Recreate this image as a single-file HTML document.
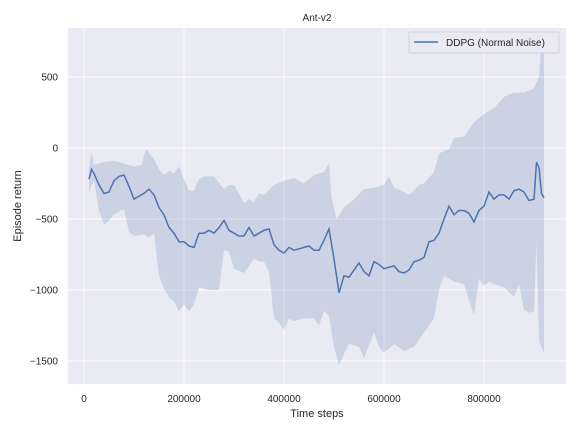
<!DOCTYPE html>
<html><head><meta charset="utf-8"><style>
body{margin:0;background:#fff;}
svg{display:block;font-family:"Liberation Sans",sans-serif;}
</style></head><body>
<svg id="chart" width="576" height="432" viewBox="0 0 576 432" xmlns="http://www.w3.org/2000/svg">
<defs><clipPath id="clip"><rect x="68" y="28" width="498" height="356"/></clipPath></defs>
<rect x="68" y="28" width="498" height="356" fill="#eaeaf2"/>
<g id="grid"></g>
<g id="series" clip-path="url(#clip)"></g>
<g id="ticks" font-size="10" fill="#262626"></g>
<text x="317" y="21" text-anchor="middle" font-size="10" fill="#262626">Ant-v2</text>
<text x="317" y="417" text-anchor="middle" font-size="11" fill="#262626">Time steps</text>
<text transform="translate(21,206) rotate(-90)" text-anchor="middle" font-size="11" fill="#262626">Episode return</text>
<g>
<rect x="409" y="32" width="150" height="21" rx="2" fill="#eaeaf2" stroke="#cccccc" stroke-width="0.8"/>
<line x1="414" y1="42" x2="438" y2="42" stroke="#4c72b0" stroke-width="1.5"/>
<text x="446" y="46" font-size="10" fill="#262626">DDPG (Normal Noise)</text>
</g>
</svg>
<script>
const meanX=[10,15,20,30,40,50,60,70,80,90,100,110,120,130,140,150,160,170,180,190,200,210,220,230,240,250,260,270,280,290,300,310,320,330,340,350,360,370,380,390,400,410,420,430,440,450,460,470,480,490,500,510,520,530,540,550,560,570,580,590,600,610,620,630,640,650,660,670,680,690,700,710,720,730,740,750,760,770,780,790,800,810,820,830,840,850,860,870,880,890,900,905,910,915,920];
const meanY=[-220,-150,-180,-260,-320,-310,-230,-200,-190,-270,-360,-340,-320,-290,-330,-420,-470,-560,-600,-660,-660,-690,-700,-600,-600,-580,-600,-560,-510,-580,-600,-620,-620,-560,-620,-600,-580,-570,-680,-720,-740,-700,-720,-710,-700,-690,-720,-720,-650,-570,-780,-1020,-900,-910,-860,-810,-870,-900,-800,-820,-850,-840,-830,-870,-880,-860,-800,-790,-770,-660,-650,-600,-500,-410,-470,-440,-440,-460,-520,-440,-410,-310,-360,-330,-330,-360,-300,-290,-310,-370,-360,-100,-140,-320,-350];
const upperX=[10,15,20,40,60,80,100,115,120,125,140,150,160,170,180,190,200,210,220,230,240,260,280,290,300,310,320,330,340,350,360,380,400,420,440,460,480,490,495,505,520,540,560,580,600,610,620,640,650,660,670,680,700,710,720,730,740,760,780,800,820,840,860,880,900,910,915,920];
const upperY=[-150,-30,-120,-100,-90,-110,-130,-120,-60,-10,-80,-150,-190,-160,-180,-130,-220,-300,-300,-220,-200,-200,-290,-260,-260,-320,-390,-360,-380,-320,-330,-260,-230,-210,-250,-190,-170,-110,-350,-500,-420,-360,-290,-280,-260,-200,-280,-310,-330,-300,-260,-250,-170,-40,-20,-10,70,80,180,240,280,360,390,390,420,500,750,750];
const lowerX=[10,20,30,40,50,60,80,90,100,120,130,140,150,160,170,180,190,200,210,220,230,250,270,280,290,300,320,340,350,360,370,380,390,400,410,420,440,460,470,480,490,500,510,520,530,550,560,580,590,600,620,640,660,680,700,710,720,740,760,780,790,800,810,820,840,860,870,880,890,900,905,910,920];
const lowerY=[-310,-230,-440,-540,-510,-470,-430,-590,-620,-610,-630,-600,-900,-990,-1050,-1080,-1150,-1100,-1150,-1100,-980,-1000,-1000,-720,-730,-850,-880,-780,-800,-800,-870,-1200,-1230,-1280,-1200,-1220,-1200,-1200,-1250,-1150,-1180,-1400,-1530,-1450,-1380,-1400,-1480,-1300,-1400,-1440,-1380,-1430,-1400,-1300,-1200,-1000,-900,-940,-960,-1180,-920,-970,-940,-960,-980,-1050,-960,-1140,-1160,-1150,-660,-1350,-1450];
const xTicks=[0,200000,400000,600000,800000];
const yTicks=[500,0,-500,-1000,-1500];
const yTickLabels=["500","0","\u2212500","\u22121000","\u22121500"];
const sx=v=>84+v*0.0005;
const sy=v=>148-v*71/500;
const NS="http://www.w3.org/2000/svg";
const grid=document.getElementById('grid'),ticks=document.getElementById('ticks'),series=document.getElementById('series');
xTicks.forEach(t=>{
 const l=document.createElementNS(NS,'line');
 l.setAttribute('x1',sx(t));l.setAttribute('x2',sx(t));l.setAttribute('y1',28);l.setAttribute('y2',384);
 l.setAttribute('stroke','#fff');l.setAttribute('stroke-width','1');
 
 
 grid.appendChild(l);
 const tx=document.createElementNS(NS,'text');
 tx.setAttribute('x',sx(t));tx.setAttribute('y',402);tx.setAttribute('text-anchor','middle');
 tx.textContent=String(t);
 
 
 ticks.appendChild(tx);
});
yTicks.forEach((t,i)=>{
 const l=document.createElementNS(NS,'line');
 l.setAttribute('x1',68);l.setAttribute('x2',566);l.setAttribute('y1',sy(t));l.setAttribute('y2',sy(t));
 l.setAttribute('stroke','#fff');l.setAttribute('stroke-width','1');
 
 
 grid.appendChild(l);
 const tx=document.createElementNS(NS,'text');
 tx.setAttribute('x',58);tx.setAttribute('y',sy(t)+3.5);tx.setAttribute('text-anchor','end');
 tx.textContent=yTickLabels[i];
 
 
 ticks.appendChild(tx);
});
let pts=[];
upperX.forEach((x,i)=>pts.push(sx(x*1000)+','+sy(upperY[i])));
for(let i=lowerX.length-1;i>=0;i--)pts.push(sx(lowerX[i]*1000)+','+sy(lowerY[i]));
const band=document.createElementNS(NS,'polygon');
band.setAttribute('points',pts.join(' '));
band.setAttribute('fill','#4c72b0');band.setAttribute('fill-opacity','0.2');


series.appendChild(band);
const line=document.createElementNS(NS,'polyline');
line.setAttribute('points',meanX.map((x,i)=>sx(x*1000)+','+sy(meanY[i])).join(' '));
line.setAttribute('fill','none');line.setAttribute('stroke','#4c72b0');line.setAttribute('stroke-width','1.5');


series.appendChild(line);
</script>
</body></html>
